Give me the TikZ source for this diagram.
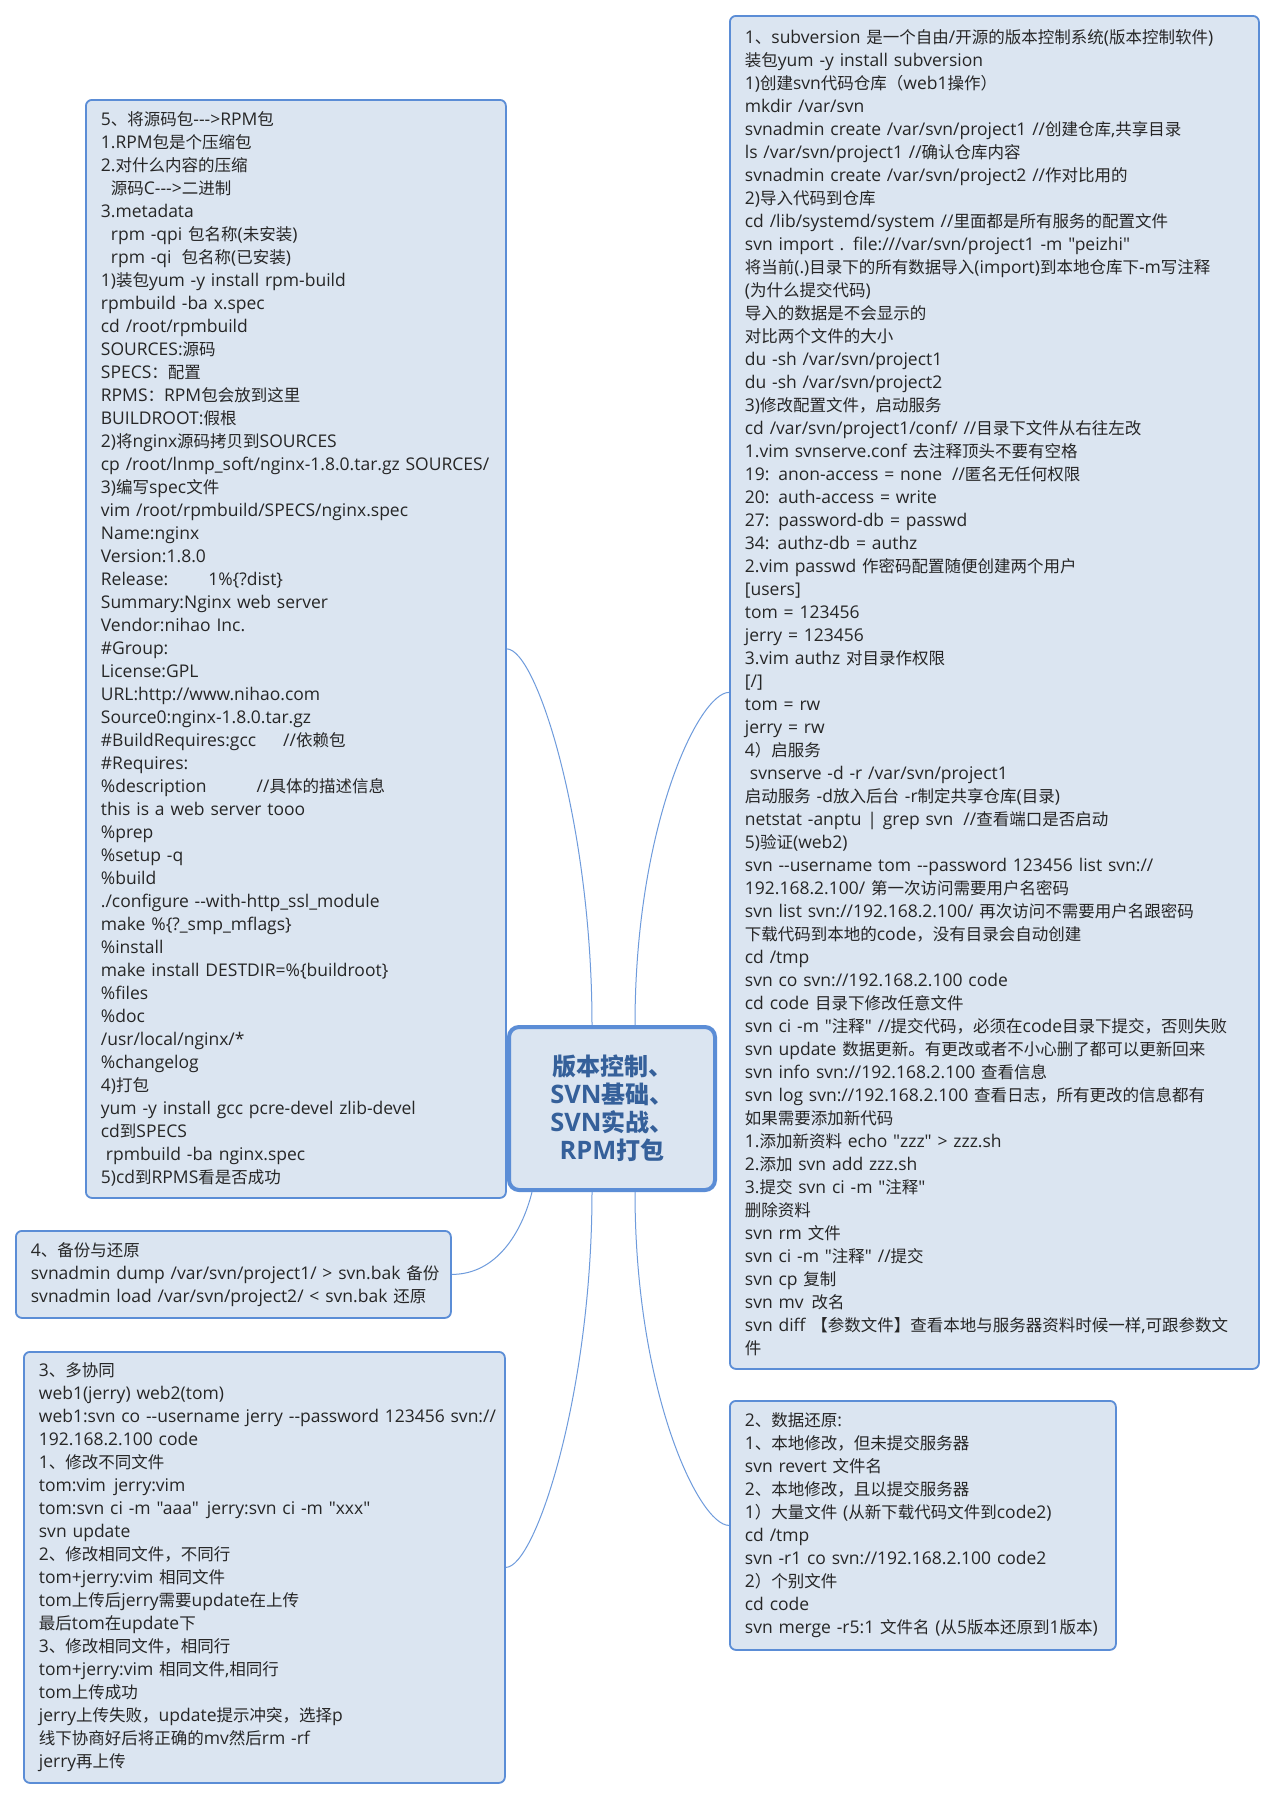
\documentclass[tikz,border=0pt]{standalone}
\usepackage{fontspec}
\setmainfont{Open Sans}[Ligatures=TeXOff, Scale=1.06]
\newfontfamily\cjkfont{Noto Sans CJK SC}
% Chinese characters switch to the CJK font by themselves
\XeTeXinterchartokenstate=1
\newXeTeXintercharclass\cjkcls
\newcount\cjkc
\def\setcjkrange#1#2{\cjkc=#1 \loop\XeTeXcharclass\cjkc=\cjkcls \ifnum\cjkc<#2 \advance\cjkc by 1 \repeat}
\setcjkrange{"3000}{"303F}
\setcjkrange{"4E00}{"9FFF}
\setcjkrange{"FF00}{"FFEF}
\XeTeXinterchartoks 0 \cjkcls = {\begingroup\cjkfont}
\XeTeXinterchartoks 4095 \cjkcls = {\begingroup\cjkfont}
\XeTeXinterchartoks \cjkcls 0 = {\endgroup}
\XeTeXinterchartoks \cjkcls 4095 = {\endgroup}
\definecolor{topicfill}{HTML}{DBE5F1}
\definecolor{topicline}{HTML}{5B8DD6}
\definecolor{topictext}{HTML}{262626}
\definecolor{roottext}{HTML}{35609A}
\definecolor{branchline}{HTML}{6E9BDC}

\begin{document}
\begin{tikzpicture}[x=1pt, y=-1pt]
\tikzset{topic/.style={draw=topicline, fill=topicfill, line width=1.8pt, rounded corners=6pt, anchor=north west, align=left, inner xsep=15pt, inner ysep=0pt, text=topictext, font=\fontsize{16.5}{23}\selectfont},
  rootnode/.style={draw=topicline, fill=topicfill, line width=4pt, rounded corners=10pt, align=center, text=roottext, minimum width=206pt, minimum height=163pt, font=\fontsize{24}{28}\selectfont\bfseries},
  branch/.style={draw=branchline, line width=1pt}}
\fill[white] (0,0) rectangle (1274,1800);
\useasboundingbox (0,0) rectangle (1274,1800);

\node[rootnode] (root) at (612,1108.5) {版本控制、\\SVN基础、\\SVN实战、\\RPM打包};

\node[topic, text width=390pt, minimum height=1098pt] (rpm) at (85,99) {5、将源码包-{}-{}->RPM包\\
1.RPM包是个压缩包\\
2.对什么内容的压缩\\
\hspace*{10pt}源码C-{}-{}->二进制\\
3.metadata\\
\hspace*{10pt}rpm -qpi 包名称(未安装)\\
\hspace*{10pt}rpm -qi\hspace{10pt}包名称(已安装)\\
1)装包yum -y install rpm-build\\
rpmbuild -ba x.spec\\
cd /root/rpmbuild\\
SOURCES:源码\\
SPECS：配置\\
RPMS：RPM包会放到这里\\
BUILDROOT:假根\\
2)将nginx源码拷贝到SOURCES\\
\mbox{cp /root/lnmp\_soft/nginx-1.8.0.tar.gz SOURCES/}\\
3)编写spec文件\\
vim /root/rpmbuild/SPECS/nginx.spec\\
Name:nginx\\
Version:1.8.0\\
Release:\hspace{40pt}1\%\{?dist\}\\
Summary:Nginx web server\\
Vendor:nihao Inc.\\
\#Group:\\
License:GPL\\
URL:http://www.nihao.com\\
Source0:nginx-1.8.0.tar.gz\\
\#BuildRequires:gcc\hspace{27pt}//依赖包\\
\#Requires:\\
\%description\hspace{50pt}//具体的描述信息\\
this is a web server tooo\\
\%prep\\
\%setup -q\\
\%build\\
./configure -{}-with-http\_ssl\_module\\
make \%\{?\_smp\_mflags\}\\
\%install\\
make install DESTDIR=\%\{buildroot\}\\
\%files\\
\%doc\\
/usr/local/nginx/*\\
\%changelog\\
4)打包\\
yum -y install gcc pcre-devel zlib-devel\\
cd到SPECS\\
\hspace*{5pt}rpmbuild -ba nginx.spec\\
5)cd到RPMS看是否成功};

\node[topic, text width=405pt, minimum height=87pt] (bak) at (15,1230) {4、备份与还原\\
\mbox{svnadmin dump /var/svn/project1/ > svn.bak 备份}\\
\mbox{svnadmin load /var/svn/project2/ < svn.bak 还原}};

\node[topic, text width=451pt, minimum height=431pt] (multi) at (23,1351) {3、多协同\\
web1(jerry) web2(tom)\\
\mbox{web1:svn co -{}-username jerry -{}-password 123456 svn://}\\
192.168.2.100 code\\
1、修改不同文件\\
tom:vim\hspace{8pt}jerry:vim\\
tom:svn ci -m "aaa"\hspace{8pt}jerry:svn ci -m "xxx"\\
svn update\\
2、修改相同文件，不同行\\
tom+jerry:vim 相同文件\\
tom上传后jerry需要update在上传\\
最后tom在update下\\
3、修改相同文件，相同行\\
tom+jerry:vim 相同文件,相同行\\
tom上传成功\\
jerry上传失败，update提示冲突，选择p\\
线下协商好后将正确的mv然后rm -rf\\
jerry再上传};

\node[topic, text width=499pt, minimum height=1353pt] (svn) at (729,15) {1、subversion 是一个自由/开源的版本控制系统(版本控制软件)\\
装包yum -y install subversion\\
1)创建svn代码仓库（web1操作）\\
mkdir /var/svn\\
svnadmin create /var/svn/project1 //创建仓库,共享目录\\
ls /var/svn/project1 //确认仓库内容\\
svnadmin create /var/svn/project2 //作对比用的\\
2)导入代码到仓库\\
cd /lib/systemd/system //里面都是所有服务的配置文件\\
svn import . file:///var/svn/project1 -m "peizhi"\\
将当前(.)目录下的所有数据导入(import)到本地仓库下-m写注释\\
(为什么提交代码)\\
导入的数据是不会显示的\\
对比两个文件的大小\\
du -sh /var/svn/project1\\
du -sh /var/svn/project2\\
3)修改配置文件，启动服务\\
cd /var/svn/project1/conf/ //目录下文件从右往左改\\
1.vim svnserve.conf 去注释顶头不要有空格\\
19: anon-access = none\hspace{10pt}//匿名无任何权限\\
20: auth-access = write\\
27: password-db = passwd\\
34:\hspace{8pt}authz-db = authz\\
2.vim passwd 作密码配置随便创建两个用户\\
{[users]}\\
tom = 123456\\
jerry = 123456\\
3.vim authz 对目录作权限\\
{[/]}\\
tom = rw\\
jerry = rw\\
4）启服务\\
\hspace*{5pt}svnserve -d -r /var/svn/project1\\
启动服务 -d放入后台 -r制定共享仓库(目录)\\
netstat -anptu | grep svn\hspace{10pt}//查看端口是否启动\\
5)验证(web2)\\
svn -{}-username tom -{}-password 123456 list svn://\\
192.168.2.100/ 第一次访问需要用户名密码\\
svn list svn://192.168.2.100/ 再次访问不需要用户名跟密码\\
下载代码到本地的code，没有目录会自动创建\\
cd /tmp\\
svn co svn://192.168.2.100 code\\
cd code 目录下修改任意文件\\
\mbox{svn ci -m "注释"\hspace{6pt}//提交代码，必须在code目录下提交，否则失败}\\
svn update 数据更新。有更改或者不小心删了都可以更新回来\\
svn info svn://192.168.2.100 查看信息\\
svn log svn://192.168.2.100 查看日志，所有更改的信息都有\\
如果需要添加新代码\\
1.添加新资料 echo "zzz" > zzz.sh\\
2.添加 svn add zzz.sh\\
3.提交 svn ci -m "注释"\\
删除资料\\
svn rm 文件\\
svn ci -m "注释"\hspace{6pt}//提交\\
svn cp 复制\\
svn mv\hspace{8pt}改名\\
\mbox{svn diff 【参数文件】查看本地与服务器资料时候一样,可跟参数文}\\
件};

\node[topic, text width=356pt, minimum height=249pt] (restore) at (729,1400) {2、数据还原:\\
1、本地修改，但未提交服务器\\
svn revert 文件名\\
2、本地修改，且以提交服务器\\
1）大量文件 (从新下载代码文件到code2)\\
cd /tmp\\
svn -r1 co svn://192.168.2.100 code2\\
2）个别文件\\
cd code\\
\mbox{svn merge -r5:1 文件名 (从5版本还原到1版本)}};

\draw[branch] (rpm.east) .. controls +(30,0) and +(0,-200) .. ([xshift=-20pt]root.north);
\draw[branch] ([xshift=23pt]root.north) .. controls +(0,-200) and +(-30,0) .. (svn.west);
\draw[branch] ([xshift=-80pt]root.south) .. controls +(-10,40) and +(45,0) .. (bak.east);
\draw[branch] ([xshift=-20pt]root.south) .. controls +(0,200) and +(30,0) .. (multi.east);
\draw[branch] ([xshift=23pt]root.south) .. controls +(0,200) and +(-30,0) .. (restore.west);
\end{tikzpicture}
\end{document}
